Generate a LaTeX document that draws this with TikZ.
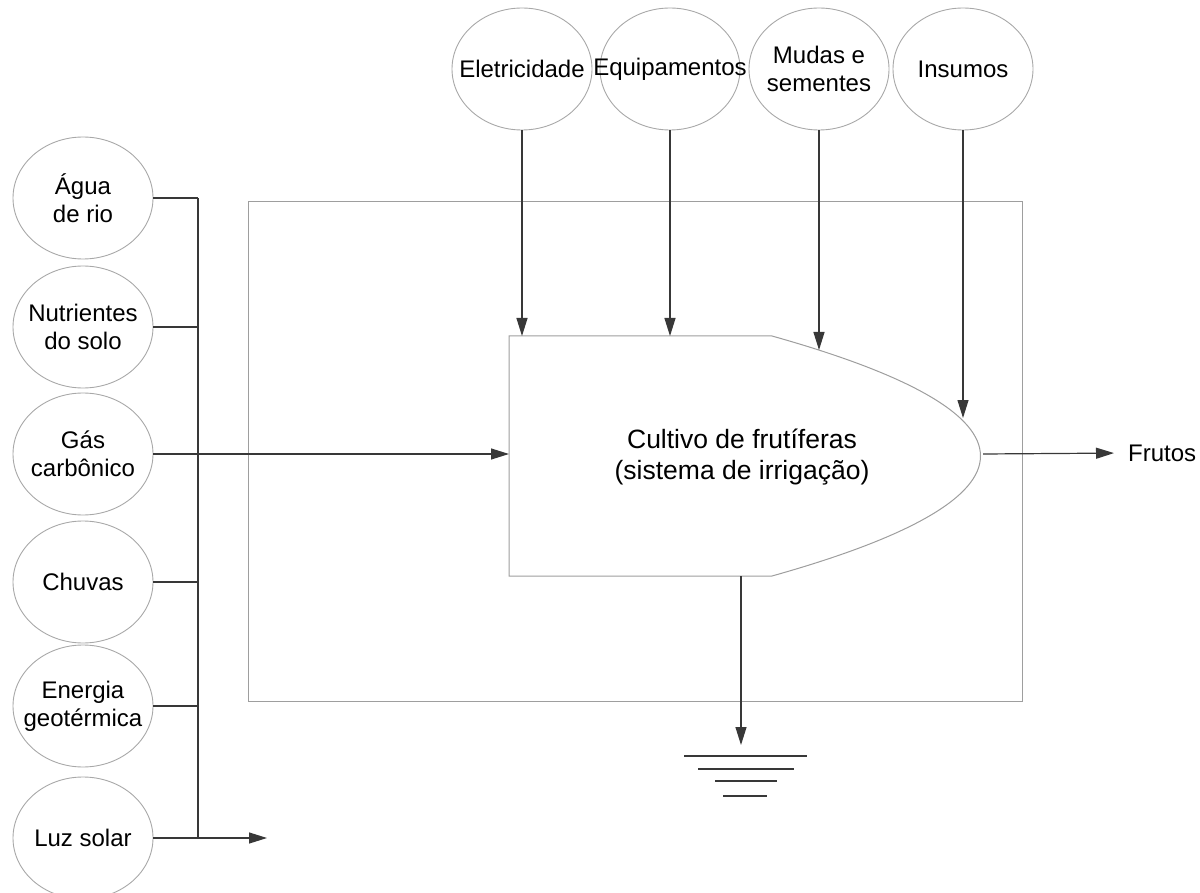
\documentclass[tikz,border=0pt]{standalone}
\usepackage{fontspec}
\setmainfont{Liberation Sans}
\usetikzlibrary{shapes.geometric,arrows.meta}
\definecolor{circgray}{gray}{0.66}
\definecolor{boxgray}{gray}{0.62}
\definecolor{linegray}{gray}{0.22}
\begin{document}
\begin{tikzpicture}[x=1pt,y=-1pt,
  src/.style={ellipse, draw=circgray, line width=0.9pt, minimum width=140pt, minimum height=122pt, inner sep=0pt},
  lab/.style={align=center, inner sep=0pt, font=\fontsize{24}{28}\selectfont},
  flow/.style={draw=linegray, line width=1.2pt},
  arr/.style={flow, -{Triangle[length=18pt,width=11pt]}},
  gline/.style={draw=linegray, line width=1.3pt},
  outline/.style={draw=boxgray, line width=1pt},
]
\useasboundingbox (0,0) rectangle (1200,893);

% system boundary
\draw[outline] (248,202) rectangle (1022,701);

% producer shape
\draw[outline, fill=white] (509,336) -- (772,336) .. controls (1050,414) and (1050,498) .. (772,576) -- (509,576) -- cycle;
\node[align=center, font=\fontsize{26.5}{31}\selectfont] (prod) at (742,457) {Cultivo de frutíferas\\(sistema de irrigação)};
\coordinate (pTop) at (0,336);
\coordinate (pL) at (509,454);
\coordinate (pM) at (819,350);
\coordinate (pI) at (963,418);
\coordinate (pTip) at (983,454);
\coordinate (pBot) at (741,576);

% top sources
\node[src] (ele) at (522,69) {};
\node[lab] at (ele) {Eletricidade};
\node[src] (equ) at (670,69) {};
\node[lab] at (equ) {Equipamentos};
\node[src] (mud) at (819,69) {};
\node[lab] at (mud) {Mudas e\\sementes};
\node[src] (ins) at (963,69) {};
\node[lab] at (ins) {Insumos};

\draw[arr] (ele) -- (ele |- pTop);
\draw[arr] (equ) -- (equ |- pTop);
\draw[arr] (mud) -- (pM);
\draw[arr] (ins) -- (pI);

% left sources
\node[src] (agua) at (83,198) {};
\node[lab] at (agua) {Água\\de rio};
\node[src] (nut) at (83,327) {};
\node[lab] at (nut) {Nutrientes\\do solo};
\node[src] (gas) at (83,454) {};
\node[lab] at (gas) {Gás\\carbônico};
\node[src] (chu) at (83,582) {};
\node[lab] at (chu) {Chuvas};
\node[src] (ene) at (83,706) {};
\node[lab] at (ene) {Energia\\geotérmica};
\node[src] (luz) at (83,838) {};
\node[lab] at (luz) {Luz solar};

\coordinate (busX) at (198,0);
\coordinate (luzEnd) at (267,838);
\draw[flow] (agua) -- (agua -| busX);
\draw[flow] (nut) -- (nut -| busX);
\draw[flow] (chu) -- (chu -| busX);
\draw[flow] (ene) -- (ene -| busX);
\draw[flow] (agua -| busX) -- (luz -| busX);
\draw[arr] (gas) -- (pL);
\draw[arr] (luz) -- (luzEnd);

% output
\node[anchor=west, inner sep=0pt, font=\fontsize{24}{28}\selectfont] (fru) at (1128,453) {Frutos};
\draw[arr, shorten >=14pt] (pTip) -- (fru.west);

% sink
\coordinate (gnd) at (741,745);
\draw[arr] (pBot) -- (gnd);
\draw[gline] (684,756) -- (807,756);
\draw[gline] (698,769) -- (794,769);
\draw[gline] (715,781) -- (777,781);
\draw[gline] (723,796) -- (767,796);
\end{tikzpicture}
\end{document}
